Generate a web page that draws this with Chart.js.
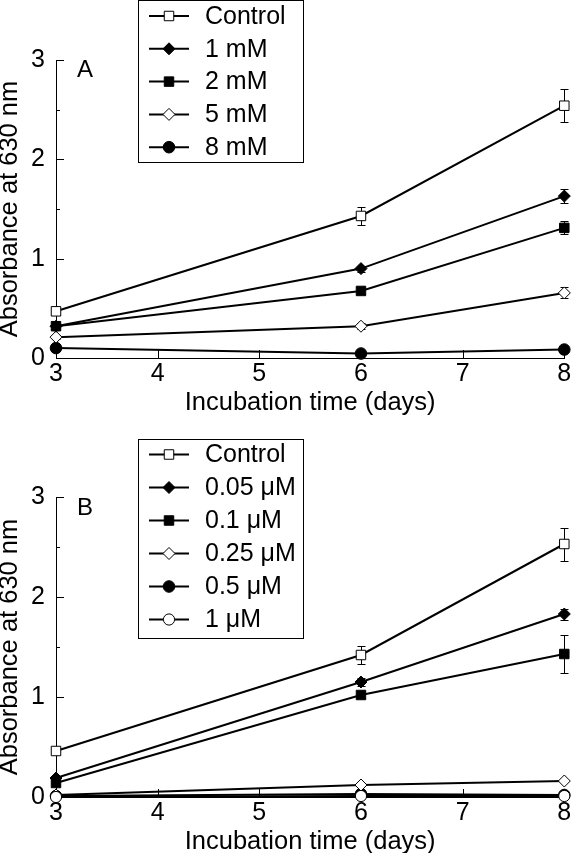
<!DOCTYPE html>
<html>
<head>
<meta charset="utf-8">
<script src="https://cdn.jsdelivr.net/npm/chart.js@4.4.1/dist/chart.umd.min.js"></script>
<style>
  html, body { margin: 0; padding: 0; background: #fff; }
  #wrap { position: relative; width: 572px; height: 853px; overflow: hidden; }
  canvas { position: absolute; left: 0; }
</style>
</head>
<body>
<div id="wrap">
  <canvas id="chartA" width="572" height="426" style="top:0"></canvas>
  <canvas id="chartB" width="572" height="427" style="top:426px"></canvas>
</div>
<script>
const FONT = '"Liberation Sans", Arial, Helvetica, sans-serif';
const TICK_SIZE = 25;
const TITLE_SIZE = 25.5;
const LEGEND_SIZE = 25;

// shared axes
const days = [3, 6, 8];
const xTicks = [3, 4, 5, 6, 7, 8];
const yTicks = [0, 1, 2, 3];
const yMinorTicks = [0.5, 1.5, 2.5];

// panel A
const labelsA = ['Control', '1 mM', '2 mM', '5 mM', '8 mM'];
const controlA = [0.47, 1.43, 2.54];
const controlAErr = [0.03, 0.09, 0.165];
const mM1 = [0.32, 0.90, 1.63];
const mM1Err = [0.02, 0.03, 0.07];
const mM2 = [0.32, 0.675, 1.31];
const mM2Err = [0.02, 0.03, 0.065];
const mM5 = [0.21, 0.32, 0.655];
const mM5Err = [0.02, 0.03, 0.055];
const mM8 = [0.10, 0.045, 0.085];
const mM8Err = [0.01, 0.01, 0.01];

// panel B
const labelsB = ['Control', '0.05 \u03bcM', '0.1 \u03bcM', '0.25 \u03bcM', '0.5 \u03bcM', '1 \u03bcM'];
const controlB = [0.46, 1.42, 2.53];
const controlBErr = [0.03, 0.09, 0.165];
const uM005 = [0.19, 1.15, 1.83];
const uM005Err = [0.02, 0.04, 0.055];
const uM01 = [0.14, 1.02, 1.43];
const uM01Err = [0.02, 0.03, 0.19];
const uM025 = [0.02, 0.12, 0.16];
const uM025Err = [0.01, 0.01, 0.01];
const uM05 = [0.01, 0.03, 0.02];
const uM05Err = [0.01, 0.01, 0.01];
const uM1 = [0.0, 0.01, 0.01];
const uM1Err = [0.01, 0.01, 0.01];

// marker looks
const openSquare = { pointStyle: 'rect', fill: '#fff', r: 6.7 };
const fillDiamond = { pointStyle: 'rectRot', fill: '#000', r: 6 };
const fillSquare = { pointStyle: 'rect', fill: '#000', r: 6.7 };
const openDiamond = { pointStyle: 'rectRot', fill: '#fff', r: 6 };
const fillCircle = { pointStyle: 'circle', fill: '#000', r: 5.8 };
const openCircle = { pointStyle: 'circle', fill: '#fff', r: 5.6 };

function makeDataset(label, values, errors, look, order) {
  return {
    label,
    data: days.map((d, i) => ({ x: d, y: values[i] })),
    errors,
    borderColor: '#000',
    borderWidth: 2,
    tension: 0,
    pointStyle: look.pointStyle,
    pointRadius: look.r,
    pointHoverRadius: look.r,
    pointBackgroundColor: look.fill,
    pointBorderColor: '#000',
    pointBorderWidth: 1,
    clip: false,
    order: order || 0,
  };
}

// ticks pointing into the plot
const innerTicks = {
  id: 'innerTicks',
  beforeDatasetsDraw(chart) {
    const { ctx, scales: { x, y } } = chart;
    ctx.save();
    ctx.strokeStyle = '#000';
    ctx.lineWidth = 1;
    ctx.beginPath();
    yTicks.forEach((v) => {
      const py = Math.round(y.getPixelForValue(v)) + 0.5;
      ctx.moveTo(x.left, py);
      ctx.lineTo(x.left + 8, py);
    });
    yMinorTicks.forEach((v) => {
      const py = Math.round(y.getPixelForValue(v)) + 0.5;
      ctx.moveTo(x.left, py);
      ctx.lineTo(x.left + 4, py);
    });
    xTicks.forEach((v) => {
      const px = Math.round(x.getPixelForValue(v)) + 0.5;
      ctx.moveTo(px, y.bottom);
      ctx.lineTo(px, y.bottom - 8);
    });
    ctx.stroke();
    ctx.restore();
  },
};

// vertical error bars with caps
const errorBars = {
  id: 'errorBars',
  beforeDatasetsDraw(chart) {
    const { ctx, scales: { x, y } } = chart;
    ctx.save();
    ctx.strokeStyle = '#000';
    ctx.lineWidth = 1;
    chart.data.datasets.forEach((ds) => {
      if (!ds.errors) return;
      ds.data.forEach((p, i) => {
        const e = ds.errors[i];
        const px = Math.round(x.getPixelForValue(p.x)) + 0.5;
        const top = Math.round(y.getPixelForValue(p.y + e)) + 0.5;
        const bot = Math.round(y.getPixelForValue(p.y - e)) + 0.5;
        ctx.beginPath();
        ctx.moveTo(px, top);
        ctx.lineTo(px, bot);
        ctx.moveTo(px - 4, top);
        ctx.lineTo(px + 4, top);
        ctx.moveTo(px - 4, bot);
        ctx.lineTo(px + 4, bot);
        ctx.stroke();
      });
    });
    ctx.restore();
  },
};

function drawMarker(ctx, look, cx, cy) {
  ctx.fillStyle = look.fill;
  ctx.strokeStyle = '#000';
  ctx.lineWidth = 1;
  if (Chart.helpers && Chart.helpers.drawPoint) {
    Chart.helpers.drawPoint(ctx, { pointStyle: look.pointStyle, radius: look.r, rotation: 0, borderWidth: 1 }, cx, cy);
    return;
  }
  ctx.beginPath();
  if (look.pointStyle === 'circle') {
    ctx.arc(cx, cy, look.r, 0, Math.PI * 2);
  } else if (look.pointStyle === 'rect') {
    const s = Math.SQRT1_2 * look.r;
    ctx.rect(cx - s, cy - s, 2 * s, 2 * s);
  } else {
    ctx.moveTo(cx - look.r, cy);
    ctx.lineTo(cx, cy - look.r);
    ctx.lineTo(cx + look.r, cy);
    ctx.lineTo(cx, cy + look.r);
    ctx.closePath();
  }
  ctx.fill();
  ctx.stroke();
}

// boxed legend + panel letter
const boxLegend = {
  id: 'boxLegend',
  afterDraw(chart, args, opts) {
    const { ctx } = chart;
    ctx.save();
    ctx.strokeStyle = '#000';
    ctx.lineWidth = 1;
    ctx.strokeRect(opts.left + 0.5, opts.top + 0.5, opts.width, opts.height);
    ctx.font = LEGEND_SIZE + 'px ' + FONT;
    ctx.textBaseline = 'middle';
    ctx.textAlign = 'left';
    chart.data.datasets.forEach((ds, i) => {
      const ry = opts.firstRow + i * opts.rowGap;
      ctx.beginPath();
      ctx.lineWidth = 2;
      ctx.strokeStyle = '#000';
      ctx.moveTo(opts.left + 11, ry);
      ctx.lineTo(opts.left + 51, ry);
      ctx.stroke();
      drawMarker(ctx, opts.looks[i], opts.left + 31, ry);
      ctx.fillStyle = '#000';
      ctx.fillText(ds.label, opts.left + 67, ry + 1);
    });
    ctx.font = '24px ' + FONT;
    ctx.fillStyle = '#000';
    ctx.fillText(opts.panel, opts.panelX, opts.panelY);
    ctx.restore();
  },
};

function makeChart(id, datasets, looks, geo) {
  const H = geo.height;
  const half = TITLE_SIZE * 1.2 / 2;
  return new Chart(document.getElementById(id), {
    type: 'line',
    data: { datasets },
    options: {
      responsive: false,
      animation: false,
      events: [],
      layout: { padding: { top: geo.top, right: 6, left: 0, bottom: 0 } },
      plugins: {
        legend: { display: false },
        tooltip: { enabled: false },
        boxLegend: Object.assign({ looks }, geo.legend),
      },
      scales: {
        x: {
          type: 'linear',
          min: 3,
          max: 8,
          afterBuildTicks: (s) => { s.ticks = xTicks.map((v) => ({ value: v })); },
          afterFit: (s) => { s.height = H - geo.bottom; s.paddingLeft = 0; s.paddingRight = 0; },
          grid: { display: false, drawTicks: false },
          border: { display: true, color: '#000', width: 1 },
          ticks: { color: '#000', padding: 1, maxRotation: 0, autoSkip: false, font: { family: FONT, size: TICK_SIZE } },
          title: {
            display: true,
            text: 'Incubation time (days)',
            color: '#000',
            font: { family: FONT, size: TITLE_SIZE, lineHeight: 1.2 },
            padding: { top: 0, bottom: H - half - geo.xTitleY },
          },
        },
        y: {
          min: 0,
          max: 3,
          afterBuildTicks: (s) => { s.ticks = yTicks.map((v) => ({ value: v })); },
          afterFit: (s) => { s.width = 56; s.paddingTop = 0; s.paddingBottom = 0; },
          grid: { display: false, drawTicks: false },
          border: { display: true, color: '#000', width: 1 },
          ticks: { color: '#000', padding: 11, font: { family: FONT, size: TICK_SIZE } },
          title: {
            display: true,
            text: 'Absorbance at 630 nm',
            color: '#000',
            font: { family: FONT, size: TITLE_SIZE, lineHeight: 1.2 },
            padding: { top: 9.5 - half, bottom: 0 },
          },
        },
      },
    },
    plugins: [innerTicks, errorBars, boxLegend],
  });
}

const looksA = [openSquare, fillDiamond, fillSquare, openDiamond, fillCircle];
makeChart('chartA', [
  makeDataset(labelsA[0], controlA, controlAErr, looksA[0]),
  makeDataset(labelsA[1], mM1, mM1Err, looksA[1]),
  makeDataset(labelsA[2], mM2, mM2Err, looksA[2]),
  makeDataset(labelsA[3], mM5, mM5Err, looksA[3]),
  makeDataset(labelsA[4], mM8, mM8Err, looksA[4]),
], looksA, {
  height: 426, top: 60, bottom: 358, xTitleY: 403,
  legend: { left: 138, top: 0, width: 165, height: 162, firstRow: 16, rowGap: 32.8, panel: 'A', panelX: 77, panelY: 70 },
});

const looksB = [openSquare, fillDiamond, fillSquare, openDiamond, fillCircle, openCircle];
makeChart('chartB', [
  makeDataset(labelsB[0], controlB, controlBErr, looksB[0]),
  makeDataset(labelsB[1], uM005, uM005Err, looksB[1]),
  makeDataset(labelsB[2], uM01, uM01Err, looksB[2]),
  makeDataset(labelsB[3], uM025, uM025Err, looksB[3]),
  makeDataset(labelsB[4], uM05, uM05Err, looksB[4]),
  makeDataset(labelsB[5], uM1, uM1Err, looksB[5], -1),
], looksB, {
  height: 427, top: 71, bottom: 371, xTitleY: 415.7,
  legend: { left: 138, top: 13, width: 165, height: 199, firstRow: 28.5, rowGap: 33, panel: 'B', panelX: 77, panelY: 82 },
});
</script>
</body>
</html>
